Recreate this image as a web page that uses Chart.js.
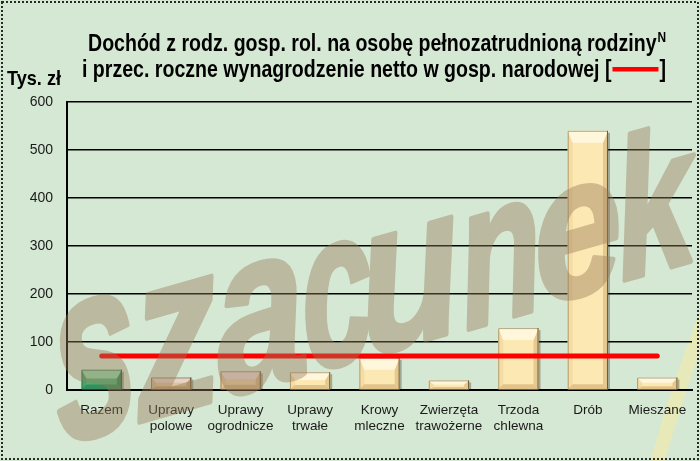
<!DOCTYPE html>
<html><head><meta charset="utf-8">
<script src="https://cdn.jsdelivr.net/npm/chart.js@4.4.1/dist/chart.umd.min.js"></script>
<style>html,body{margin:0;padding:0;background:#d5e8d4;}canvas{display:block}</style>
</head><body>
<canvas id="c" width="700" height="461"></canvas>
<script>
// ---- data ----
const categories = [['Razem'],['Uprawy','polowe'],['Uprawy','ogrodnicze'],['Uprawy','trwałe'],['Krowy','mleczne'],['Zwierzęta','trawożerne'],['Trzoda','chlewna'],['Drób'],['Mieszane']];
const incomePerWorker = [42, 26, 39, 37, 67, 20, 129, 540, 26];
const netWage = [71, 71, 71, 71, 71, 71, 71, 71, 71];
const yTickValues = [0, 100, 200, 300, 400, 500, 600];
const titleLine1 = 'Dochód z rodz. gosp. rol. na osobę pełnozatrudnioną rodziny';
const titleSup = 'N';
const titleLine2 = 'i przec. roczne wynagrodzenie netto w gosp. narodowej [';
const titleEnd = ']';
const yUnit = 'Tys. zł';
const watermarkText = 'szacunek';

// ---- styles ----
const FONT = "'Liberation Sans', Arial, sans-serif";
const BG = '#d5e8d4';
const palettes = {
  green: {face:'#4db277', top:'#8fdcac', left:'#43a56b', right:'#2f8a55', bottom:'#33905a', edge:'#1e5a36'},
  tan:   {face:'#dcc39c', top:'#e6d3c8', left:'#d2b78e', right:'#c3a67c', bottom:'#c0a276', edge:'#5e4a2e'},
  tan2:  {face:'#e9d0a5', top:'#e8d9d3', left:'#e0c597', right:'#d2b586', bottom:'#cfb083', edge:'#6a5434'},
  cream: {face:'#fce8b3', top:'#fff7dc', left:'#f4dca4', right:'#e6c98f', bottom:'#e2c48a', edge:'#6d5a36'}
};
const barStyles = ['green','tan','tan2','cream','cream','cream','cream','cream','cream'];

const bgPlugin = {
  id:'bg',
  beforeDraw(chart){
    const c = chart.ctx;
    c.save(); c.fillStyle = BG; c.fillRect(0,0,chart.width,chart.height);
    c.strokeStyle = 'rgba(255,236,150,0.45)'; c.lineWidth = 14; c.lineCap = 'round';
    c.beginPath(); c.moveTo(712, 300); c.quadraticCurveTo(680, 380, 655, 470); c.stroke();
    c.restore();
  }
};

const bevelPlugin = {
  id:'bevel',
  afterDatasetDraw(chart, args){
    if (chart.data.datasets[args.index].type !== 'bar') return;
    const c = chart.ctx;
    args.meta.data.forEach((el, i) => {
      const p = palettes[barStyles[i]];
      const w = el.width, l = el.x - w/2, r = el.x + w/2, t = el.y, b = el.base;
      const h = b - t;
      const bt = Math.min(12, h*0.45), bb = Math.min(5, h*0.25), bs = Math.min(5, w*0.15);
      c.save();
      c.fillStyle = 'rgba(60,50,30,0.35)';
      c.fillRect(r, t+2, 2, h-2);
      c.fillStyle = p.left;
      c.beginPath(); c.moveTo(l,t); c.lineTo(l+bs,t+bt); c.lineTo(l+bs,b-bb); c.lineTo(l,b); c.closePath(); c.fill();
      c.fillStyle = p.right;
      c.beginPath(); c.moveTo(r,t); c.lineTo(r-bs,t+bt); c.lineTo(r-bs,b-bb); c.lineTo(r,b); c.closePath(); c.fill();
      c.fillStyle = p.bottom;
      c.beginPath(); c.moveTo(l,b); c.lineTo(l+bs,b-bb); c.lineTo(r-bs,b-bb); c.lineTo(r,b); c.closePath(); c.fill();
      c.fillStyle = p.top;
      c.beginPath(); c.moveTo(l,t); c.lineTo(r,t); c.lineTo(r-bs,t+bt); c.lineTo(l+bs,t+bt); c.closePath(); c.fill();
      c.strokeStyle = p.edge; c.lineWidth = 1;
      c.beginPath(); c.moveTo(r-0.5,t); c.lineTo(r-0.5,b); c.stroke();
      c.globalAlpha = 0.5;
      c.beginPath(); c.moveTo(l+0.5,b); c.lineTo(l+0.5,t+0.5); c.lineTo(r,t+0.5); c.stroke();
      c.restore();
    });
  }
};

function narrowText(c, text, x, y, sx){
  c.save(); c.translate(x, y); c.scale(sx, 1); c.fillText(text, 0, 0); c.restore();
}

const textPlugin = {
  id:'texts',
  afterDraw(chart){
    const c = chart.ctx;
    c.save();
    c.strokeStyle = '#2a2a2a'; c.lineWidth = 2; c.setLineDash([2,2]);
    c.strokeRect(2, 2, chart.width-4, chart.height-4);
    c.setLineDash([]);
    c.fillStyle = '#000';
    c.textBaseline = 'alphabetic'; c.textAlign = 'left';
    const main = "bold 23px " + FONT, sup = "bold 14px " + FONT;
    c.font = main; const w1 = c.measureText(titleLine1).width;
    c.font = sup; const ws = c.measureText(titleSup).width;
    const sx = 578 / (w1 + ws + 1);
    let x1 = 88;
    c.font = main; narrowText(c, titleLine1, x1, 51, sx);
    c.font = sup; narrowText(c, titleSup, x1 + (w1 + 1)*sx, 42, sx);
    c.font = main;
    const w2 = c.measureText(titleLine2).width * sx;
    const seg = 46, gap = 3;
    let x2 = 82;
    narrowText(c, titleLine2, x2, 77, sx);
    c.fillStyle = '#ff0000';
    c.fillRect(x2 + w2 + gap - 2, 67, seg, 4.5);
    c.fillStyle = '#000';
    narrowText(c, titleEnd, x2 + w2 + seg + 2*gap - 4, 77, sx);
    c.font = "bold 21px " + FONT;
    const wu = c.measureText(yUnit).width;
    narrowText(c, yUnit, 7, 85, 54 / wu);
    c.restore();
  }
};

// decorative watermark layout: [baseline-left x, baseline y, font px, advance px]
const watermarkLayout = [[60,445,245,80],[140,422,228,82],[222,398,222,86],[308,373,216,68],[366,357,210,96],[466,330,200,78],[540,306,192,84],[622,281,192,74]];
const watermarkPlugin = {
  id:'wm',
  afterDraw(chart){
    const off = document.createElement('canvas');
    off.width = chart.width; off.height = chart.height;
    const o = off.getContext('2d');
    o.fillStyle = 'rgb(153,122,88)'; o.strokeStyle = 'rgb(153,122,88)';
    o.lineJoin = 'round'; o.lineWidth = 5;
    o.textBaseline = 'alphabetic'; o.textAlign = 'left';
    [...watermarkText].forEach((ch, i) => {
      const [x, y, em, adv] = watermarkLayout[i];
      o.save();
      o.font = "italic bold " + em + "px 'Liberation Sans', Arial, sans-serif";
      const w = o.measureText(ch).width;
      o.translate(x, y);
      o.rotate(-16 * Math.PI/180);
      o.transform(1, 0, -0.18, 1, 0, 0);
      o.scale(adv * 1.08 / w, 1);
      o.fillText(ch, 0, 0);
      o.strokeText(ch, 0, 0);
      o.restore();
    });
    const c = chart.ctx;
    c.save(); c.globalAlpha = 0.42; c.drawImage(off, 0, 0); c.restore();
  }
};

new Chart(document.getElementById('c'), {
  data: {
    labels: categories,
    datasets: [
      {type:'bar', data: incomePerWorker, backgroundColor: barStyles.map(s => palettes[s].face), borderWidth:0, barPercentage:0.58, categoryPercentage:1, order:1},
      {type:'line', data: netWage, borderColor:'#ff0000', borderWidth:5, pointRadius:0, borderCapStyle:'round', tension:0, order:0}
    ]
  },
  options: {
    responsive:false, animation:false,
    layout:{padding:{left:0, top:102, right:8, bottom:0}},
    plugins:{legend:{display:false}, title:{display:false}, tooltip:{enabled:false}},
    scales:{
      x:{
        grid:{display:false, drawTicks:false},
        border:{display:true, color:'#000', width:2},
        ticks:{font:{family:FONT, size:13.5}, color:'#1a1a1a', padding:12, maxRotation:0, autoSkip:false},
        afterFit(s){ s.height = 71; }
      },
      y:{
        min:0, max:600,
        afterBuildTicks(s){ s.ticks = yTickValues.map(v => ({value:v})); },
        ticks:{font:{family:FONT, size:14}, color:'#1a1a1a', padding:14},
        grid:{color:'#000', lineWidth:1.5, drawTicks:false},
        border:{display:true, color:'#000', width:2},
        afterFit(s){ s.width = 67; }
      }
    }
  },
  plugins:[bgPlugin, bevelPlugin, textPlugin, watermarkPlugin]
});
</script>
</body></html>
